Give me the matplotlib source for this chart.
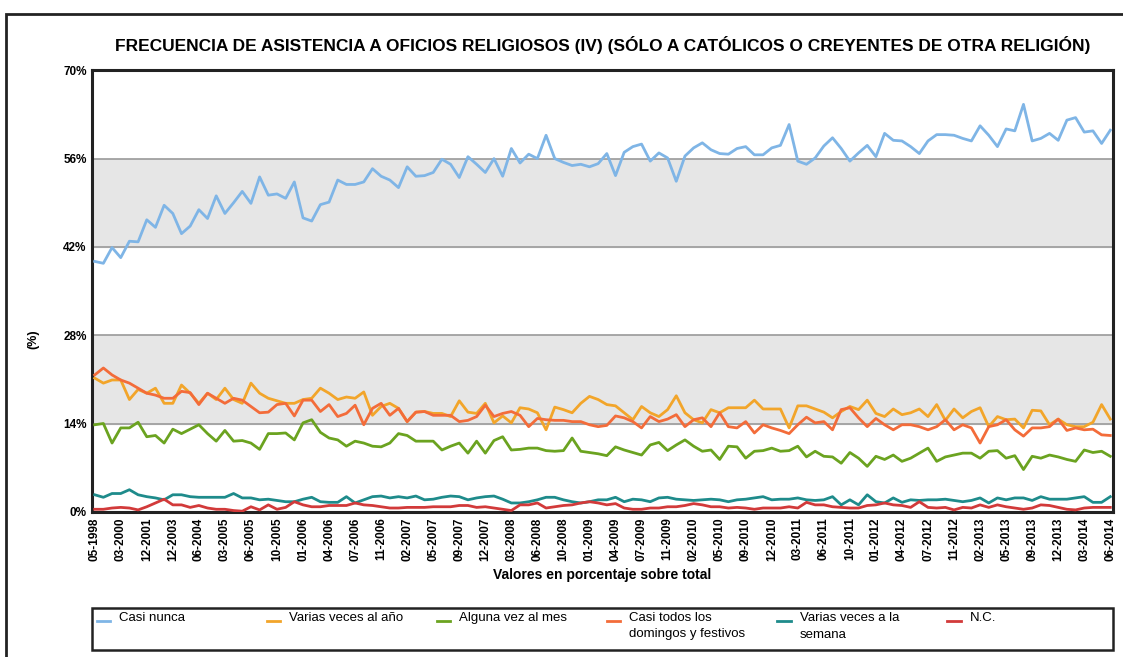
import matplotlib.pyplot as plt
from matplotlib.patches import Rectangle
from matplotlib.lines import Line2D

# fechas del eje (una etiqueta cada 3 puntos)
tick_labels = ['05-1998', '03-2000', '12-2001', '12-2003', '06-2004', '03-2005', '06-2005',
               '10-2005', '01-2006', '04-2006', '07-2006', '11-2006', '02-2007', '05-2007',
               '09-2007', '12-2007', '03-2008', '06-2008', '10-2008', '01-2009', '04-2009',
               '07-2009', '11-2009', '02-2010', '05-2010', '09-2010', '12-2010', '03-2011',
               '06-2011', '10-2011', '01-2012', '04-2012', '07-2012', '11-2012', '02-2013',
               '05-2013', '09-2013', '12-2013', '03-2014', '06-2014']

casi_nunca = [39.7, 39.4, 41.9, 40.3, 42.9, 42.8, 46.3, 45.1, 48.6, 47.3, 44.1, 45.3, 47.9, 46.5, 50.1,
              47.3, 49.0, 50.8, 48.9, 53.1, 50.2, 50.4, 49.7, 52.3, 46.6, 46.1, 48.7, 49.1, 52.6, 51.9,
              51.9, 52.3, 54.4, 53.2, 52.6, 51.4, 54.7, 53.2, 53.3, 53.8, 55.9, 55.1, 53.0, 56.3, 55.1,
              53.8, 56.0, 53.2, 57.6, 55.3, 56.7, 56.0, 59.7, 56.0, 55.4, 54.9, 55.1, 54.7, 55.2,
              56.8, 53.3, 57.0, 57.9, 58.3, 55.6, 56.9, 56.1, 52.4, 56.4, 57.7, 58.5, 57.4, 56.8, 56.7,
              57.6, 57.9, 56.6, 56.6, 57.7, 58.1, 61.4, 55.6, 55.1, 56.1, 58.0, 59.3, 57.6, 55.6, 56.9,
              58.1, 56.3, 60.0, 58.9, 58.8, 57.9, 56.8, 58.8, 59.8, 59.8, 59.7, 59.2, 58.8, 61.2, 59.7,
              57.9, 60.7, 60.4, 64.6, 58.8, 59.2, 60.0, 58.9, 62.1, 62.5, 60.2, 60.4, 58.4, 60.5]

varias_anio = [21.2, 20.4, 20.9, 20.9, 17.8, 19.4, 18.8, 19.6, 17.2, 17.2, 20.1, 18.8, 17.2, 18.8, 17.8,
               19.6, 17.8, 17.2, 20.4, 18.8, 18.0, 17.6, 17.2, 17.2, 17.8, 18.0, 19.6, 18.8, 17.8, 18.2,
               18.0, 19.0, 15.3, 16.7, 17.2, 16.4, 14.3, 15.8, 15.9, 15.6, 15.6, 15.1, 17.6, 15.8, 15.6,
               17.2, 14.1, 15.2, 14.1, 16.5, 16.3, 15.7, 13.0, 16.6, 16.2, 15.7, 17.2, 18.3, 17.8,
               17.0, 16.8, 15.7, 14.6, 16.7, 15.7, 15.1, 16.2, 18.4, 15.7, 14.6, 14.1, 16.2, 15.7, 16.5,
               16.5, 16.5, 17.7, 16.3, 16.3, 16.3, 13.3, 16.8, 16.8, 16.3, 15.8, 14.9, 15.9, 16.7, 16.2,
               17.7, 15.6, 15.1, 16.3, 15.4, 15.7, 16.3, 15.1, 17.0, 14.5, 16.3, 14.9, 15.9, 16.5, 13.5,
               15.1, 14.6, 14.7, 13.3, 16.1, 16.0, 13.8, 14.7, 13.8, 13.5, 13.5, 14.2, 17.0, 14.7]

alguna_mes = [13.8, 14.0, 10.9, 13.3, 13.3, 14.2, 11.9, 12.1, 10.9, 13.1, 12.4, 13.1, 13.8, 12.4, 11.2,
              12.9, 11.2, 11.3, 10.9, 9.9, 12.4, 12.4, 12.5, 11.4, 14.1, 14.6, 12.6, 11.7, 11.4, 10.4,
              11.2, 10.9, 10.4, 10.3, 10.9, 12.4, 12.1, 11.2, 11.2, 11.2, 9.8, 10.4, 10.9, 9.3, 11.2,
              9.3, 11.3, 11.9, 9.8, 9.9, 10.1, 10.1, 9.7, 9.6, 9.7, 11.7, 9.6, 9.4, 9.2,
              8.9, 10.3, 9.8, 9.4, 9.0, 10.6, 11.0, 9.7, 10.6, 11.4, 10.4, 9.6, 9.8, 8.3, 10.4,
              10.3, 8.5, 9.6, 9.7, 10.1, 9.6, 9.7, 10.4, 8.7, 9.6, 8.8, 8.7, 7.7, 9.4, 8.5,
              7.2, 8.8, 8.3, 9.0, 8.0, 8.5, 9.3, 10.1, 8.0, 8.7, 9.0, 9.3, 9.3, 8.5, 9.6,
              9.7, 8.5, 8.9, 6.7, 8.8, 8.5, 9.0, 8.7, 8.3, 8.0, 9.8, 9.4, 9.6, 8.8]

casi_todos = [21.7, 22.8, 21.7, 20.9, 20.4, 19.6, 18.8, 18.5, 18.0, 18.0, 19.1, 18.9, 17.0, 18.8, 18.0,
              17.2, 18.0, 17.7, 16.7, 15.7, 15.8, 17.0, 17.2, 15.2, 17.7, 17.7, 15.9, 17.0, 15.1, 15.6,
              16.9, 13.8, 16.4, 17.2, 15.3, 16.4, 14.3, 15.8, 15.9, 15.3, 15.3, 15.3, 14.3, 14.5, 15.1,
              16.9, 15.1, 15.6, 15.9, 15.3, 13.5, 14.8, 14.6, 14.5, 14.5, 14.3, 14.3, 13.8, 13.5,
              13.7, 15.2, 14.9, 14.3, 13.3, 15.1, 14.3, 14.7, 15.4, 13.5, 14.6, 14.9, 13.5, 15.7, 13.5,
              13.3, 14.3, 12.5, 13.8, 13.3, 12.9, 12.4, 13.8, 15.0, 14.1, 14.3, 13.0, 16.2, 16.5, 14.9,
              13.5, 14.8, 13.8, 13.0, 13.8, 13.8, 13.5, 13.0, 13.5, 14.6, 13.0, 13.8, 13.3, 10.9, 13.5,
              13.8, 14.6, 13.0, 12.0, 13.3, 13.3, 13.5, 14.7, 12.9, 13.3, 13.0, 13.1, 12.2, 12.1]

varias_semana = [2.7, 2.3, 2.9, 2.9, 3.5, 2.7, 2.4, 2.2, 1.9, 2.7, 2.7, 2.4, 2.3, 2.3, 2.3,
                 2.3, 2.9, 2.2, 2.2, 1.9, 2.0, 1.8, 1.6, 1.6, 2.0, 2.3, 1.6, 1.5, 1.5, 2.4,
                 1.4, 1.9, 2.4, 2.5, 2.2, 2.4, 2.2, 2.5, 1.9, 2.0, 2.3, 2.5, 2.4, 1.9, 2.2,
                 2.4, 2.5, 2.0, 1.4, 1.4, 1.6, 1.9, 2.3, 2.3, 1.9, 1.6, 1.4, 1.6, 1.9,
                 1.9, 2.3, 1.6, 2.0, 1.9, 1.6, 2.2, 2.3, 2.0, 1.9, 1.8, 1.9, 2.0, 1.9, 1.6,
                 1.9, 2.0, 2.2, 2.4, 1.9, 2.0, 2.0, 2.2, 1.9, 1.8, 1.9, 2.4, 1.1, 1.9, 1.1,
                 2.7, 1.6, 1.4, 2.2, 1.5, 1.9, 1.8, 1.9, 1.9, 2.0, 1.8, 1.6, 1.8, 2.2, 1.4,
                 2.2, 1.9, 2.2, 2.2, 1.8, 2.4, 2.0, 2.0, 2.0, 2.2, 2.4, 1.5, 1.5, 2.4]

nc = [0.4, 0.4, 0.6, 0.7, 0.6, 0.3, 0.8, 1.4, 2.0, 1.1, 1.1, 0.7, 1.0, 0.6, 0.4,
      0.4, 0.2, 0.1, 0.8, 0.3, 1.1, 0.4, 0.7, 1.6, 1.1, 0.8, 0.8, 1.0, 1.0, 1.0,
      1.4, 1.1, 1.0, 0.8, 0.6, 0.6, 0.7, 0.7, 0.7, 0.8, 0.8, 0.8, 1.0, 1.0, 0.7,
      0.8, 0.6, 0.4, 0.2, 1.1, 1.1, 1.4, 0.6, 0.8, 1.0, 1.1, 1.4, 1.6, 1.4,
      1.1, 1.3, 0.6, 0.4, 0.4, 0.6, 0.6, 0.8, 0.8, 1.0, 1.3, 1.1, 0.8, 0.8, 0.6,
      0.7, 0.6, 0.4, 0.6, 0.6, 0.6, 0.8, 0.6, 1.5, 1.1, 1.1, 0.8, 0.7, 0.6, 0.6,
      1.0, 1.1, 1.4, 1.1, 1.0, 0.7, 1.6, 0.7, 0.6, 0.7, 0.3, 0.7, 0.6, 1.1, 0.7,
      1.1, 0.8, 0.6, 0.4, 0.6, 1.1, 1.0, 0.7, 0.4, 0.3, 0.6, 0.7, 0.7, 0.7]

series = [
    ('Casi nunca', casi_nunca, '#7fb5e6'),
    ('Varias veces al año', varias_anio, '#f2a52a'),
    ('Alguna vez al mes', alguna_mes, '#6ba320'),
    ('Casi todos los\ndomingos y festivos', casi_todos, '#f36c3a'),
    ('Varias veces a la\nsemana', varias_semana, '#1e8b8b'),
    ('N.C.', nc, '#d23a3a'),
]

n = len(casi_nunca)
x = list(range(n))

plt.rcParams['font.family'] = ['Liberation Sans', 'DejaVu Sans']

fig = plt.figure(figsize=(11.23, 6.57), dpi=100)
ax = fig.add_axes([0.082, 0.221, 0.909, 0.672])

# bandas grises
for lo, hi in [(14, 28), (42, 56)]:
    ax.axhspan(lo, hi, color='#e6e6e6', zorder=0)
for yv in [14, 28, 42, 56]:
    ax.axhline(yv, color='#9a9a9a', lw=1.2, zorder=1)

for label, vals, col in series:
    ax.plot(x, vals, color=col, lw=2, label=label, zorder=3)

ax.set_xlim(-0.3, n - 0.7)
ax.set_ylim(0, 70)
ax.set_yticks([0, 14, 28, 42, 56, 70])
ax.set_yticklabels(['0%', '14%', '28%', '42%', '56%', '70%'], fontsize=8.5, fontweight='bold')
ax.set_xticks(x[::3])
ax.set_xticklabels(tick_labels, rotation=90, fontsize=8.5, fontweight='bold')
ax.tick_params(length=0, pad=4)
for s in ax.spines.values():
    s.set_linewidth(2.2)
    s.set_color('#222222')

ax.set_ylabel('(%)', fontsize=9, fontweight='bold')
ax.yaxis.set_label_coords(-0.052, 0.39)
ax.set_xlabel('Valores en porcentaje sobre total', fontsize=10, fontweight='bold', labelpad=5)
ax.set_title('FRECUENCIA DE ASISTENCIA A OFICIOS RELIGIOSOS (IV) (SÓLO A CATÓLICOS O CREYENTES DE OTRA RELIGIÓN)',
             fontsize=12.5, fontweight='bold', pad=14)

# leyenda: caja inferior con 6 columnas iguales
fig.patches.append(Rectangle((0.082, 1 - 650 / 657), 0.909, 42 / 657, transform=fig.transFigure,
                             fill=False, edgecolor='#222222', lw=1.8))
col_w = 0.909 / 6
ytop = 1 - 612 / 657
yline = 1 - 621 / 657
for i, (label, _, col) in enumerate(series):
    x0 = 0.086 + i * col_w
    fig.add_artist(Line2D([x0, x0 + 0.012], [yline, yline], color=col, lw=2, transform=fig.transFigure))
    fig.text(x0 + 0.02, ytop, label, fontsize=9.5, va='top', ha='left', linespacing=1.5)

# marco exterior
fig.patches.append(Rectangle((0.005, -0.01), 1.2, 0.989, transform=fig.transFigure,
                             fill=False, edgecolor='#222222', lw=2))

fig.savefig('out.png', dpi=100)
